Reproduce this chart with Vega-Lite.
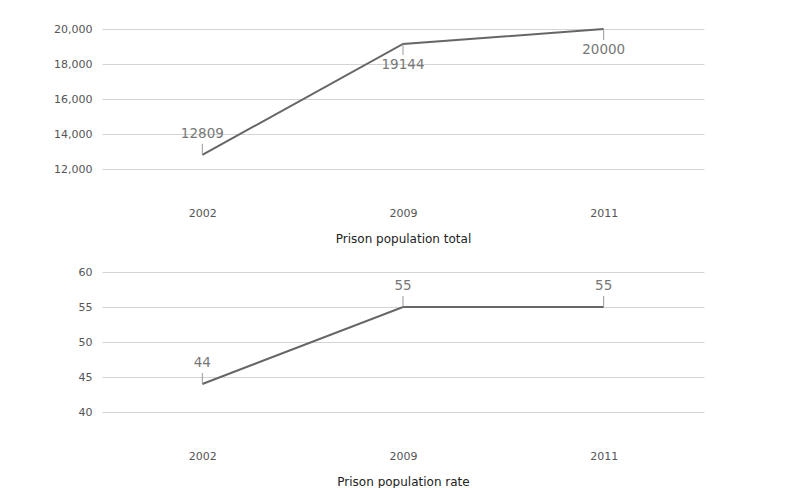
{
  "$schema": "https://vega.github.io/schema/vega-lite/v6.json",
  "padding": {"left": 53, "top": 23, "right": 5, "bottom": 5},
  "background": "white",
  "spacing": 22,
  "datasets": {
    "total": [
      {"year": "2002", "value": 12809},
      {"year": "2009", "value": 19144},
      {"year": "2011", "value": 20000}
    ],
    "rate": [
      {"year": "2002", "value": 44},
      {"year": "2009", "value": 55},
      {"year": "2011", "value": 55}
    ]
  },
  "config": {
    "view": {"stroke": null},
    "font": "DejaVu Sans",
    "axis": {
      "ticks": false,
      "domain": false,
      "labelFont": "DejaVu Sans",
      "labelFontSize": 11,
      "labelColor": "#555555",
      "titleFont": "DejaVu Sans",
      "titleFontSize": 12,
      "titleFontWeight": "normal",
      "titleColor": "#222222",
      "gridColor": "#d4d4d4",
      "gridWidth": 1
    },
    "axisX": {"grid": false, "labelAngle": 0, "labelPadding": 38, "titlePadding": 15},
    "axisY": {"labelPadding": 10}
  },
  "vconcat": [
    {
      "width": 602,
      "height": 140,
      "data": {"name": "total"},
      "encoding": {
        "x": {"field": "year", "type": "ordinal", "scale": {"type": "point", "padding": 0.5}, "axis": {"title": "Prison population total"}},
        "y": {"field": "value", "type": "quantitative", "scale": {"domain": [12000, 20000]}, "axis": {"title": null, "values": [12000, 14000, 16000, 18000, 20000], "format": ",d"}}
      },
      "layer": [
        {"mark": {"type": "line", "color": "#666666", "strokeWidth": 2}},
        {
          "transform": [{"filter": "datum.year == '2002'"}],
          "mark": {"type": "rule", "color": "#999999", "strokeWidth": 1, "y2Offset": -11},
          "encoding": {"y2": {"field": "value"}}
        },
        {
          "transform": [{"filter": "datum.year != '2002'"}],
          "mark": {"type": "rule", "color": "#999999", "strokeWidth": 1, "y2Offset": 11},
          "encoding": {"y2": {"field": "value"}}
        },
        {
          "transform": [{"filter": "datum.year == '2002'"}],
          "mark": {"type": "text", "dy": -21, "fontSize": 13.5, "color": "#777777", "baseline": "middle"},
          "encoding": {"text": {"field": "value", "type": "quantitative", "format": "d"}}
        },
        {
          "transform": [{"filter": "datum.year != '2002'"}],
          "mark": {"type": "text", "dy": 21, "fontSize": 13.5, "color": "#777777", "baseline": "middle"},
          "encoding": {"text": {"field": "value", "type": "quantitative", "format": "d"}}
        }
      ]
    },
    {
      "width": 602,
      "height": 140,
      "data": {"name": "rate"},
      "encoding": {
        "x": {"field": "year", "type": "ordinal", "scale": {"type": "point", "padding": 0.5}, "axis": {"title": "Prison population rate"}},
        "y": {"field": "value", "type": "quantitative", "scale": {"domain": [40, 60]}, "axis": {"title": null, "values": [40, 45, 50, 55, 60], "format": "d"}}
      },
      "layer": [
        {"mark": {"type": "line", "color": "#666666", "strokeWidth": 2}},
        {
          "mark": {"type": "rule", "color": "#999999", "strokeWidth": 1, "y2Offset": -11},
          "encoding": {"y2": {"field": "value"}}
        },
        {
          "mark": {"type": "text", "dy": -21, "fontSize": 13.5, "color": "#777777", "baseline": "middle"},
          "encoding": {"text": {"field": "value", "type": "quantitative", "format": "d"}}
        }
      ]
    }
  ]
}
